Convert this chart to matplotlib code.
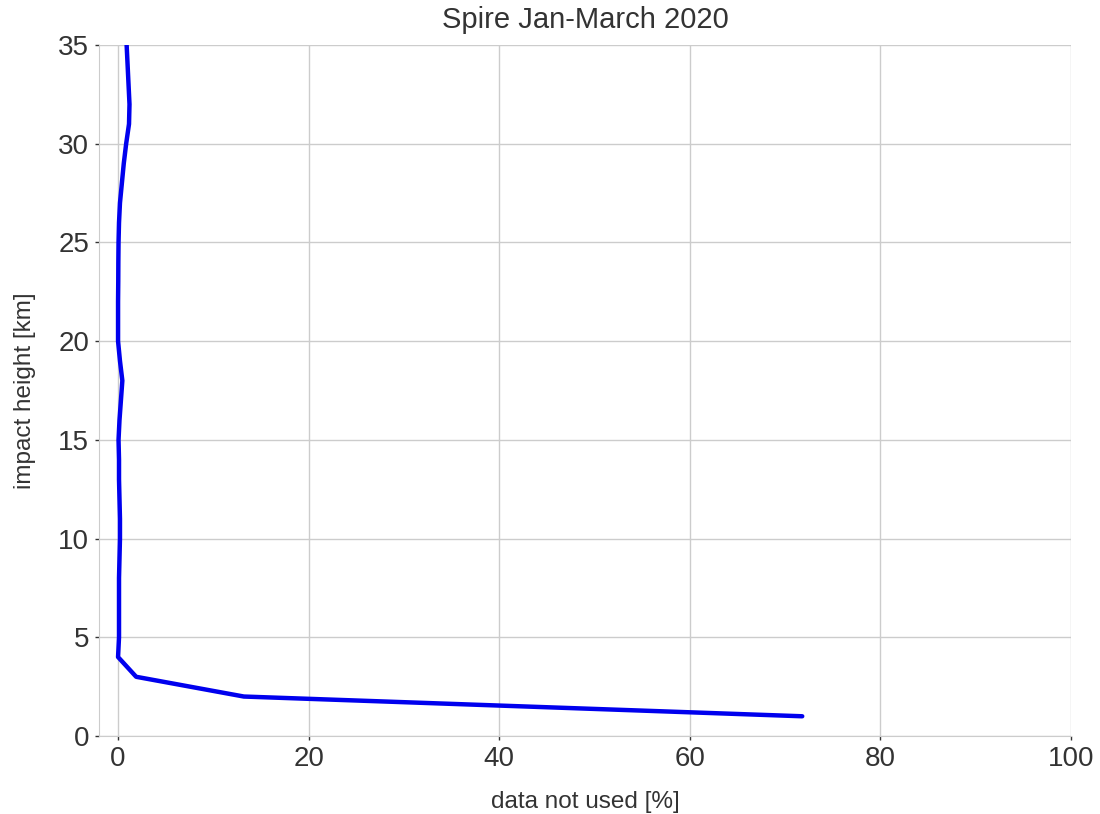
import numpy as np
import matplotlib
matplotlib.use("Agg")
import matplotlib.pyplot as plt
import seaborn as sns

# impact height [km] and share of data not used [%]
height_km = [1, 2, 3, 4, 5, 6, 7, 8, 9, 10, 11, 12, 13, 14, 15, 16, 17, 18,
             19, 20, 21, 22, 23, 24, 25, 26, 27, 28, 29, 30, 31, 32, 33, 34, 35]
not_used = [71.8, 13.2, 1.9, 0.0, 0.1, 0.1, 0.1, 0.1, 0.15, 0.2, 0.2, 0.15, 0.1, 0.1, 0.05,
            0.15, 0.3, 0.45, 0.2, 0.0, 0.0, 0.0, 0.02, 0.03, 0.05, 0.1, 0.2, 0.4, 0.6, 0.85,
            1.15, 1.2, 1.1, 1.0, 0.9]

sns.set_style("whitegrid")
plt.rcParams['font.family'] = ['Liberation Sans', 'DejaVu Sans']

fig = plt.figure(figsize=(11, 8.14), dpi=100)
ax = fig.add_axes([0.09, 0.0958, 0.8836, 0.8489])

ax.plot(not_used, height_km, color='#0000ee', lw=3.2, solid_joinstyle='round')

ax.set_xlim(-2, 100)
ax.set_ylim(0, 35)
ax.set_xticks([0, 20, 40, 60, 80, 100])
ax.set_yticks([0, 5, 10, 15, 20, 25, 30, 35])
ax.tick_params(axis='both', labelsize=20, length=3, width=1, color='#333333',
               left=True, bottom=True, labelcolor='#333333', pad=4)
ax.grid(color='#cccccc', lw=1)
for side in ['top', 'right']:
    ax.spines[side].set_visible(False)
for side in ['left', 'bottom']:
    ax.spines[side].set_color('#cccccc')

ax.set_xlabel('data not used [%]', fontsize=17.5, color='#333333', labelpad=14)
ax.set_ylabel('impact height [km]', fontsize=17.5, color='#333333', labelpad=16)
ax.set_title('Spire Jan-March 2020', fontsize=21, color='#333333', pad=12)

fig.savefig('out.png', dpi=100)
